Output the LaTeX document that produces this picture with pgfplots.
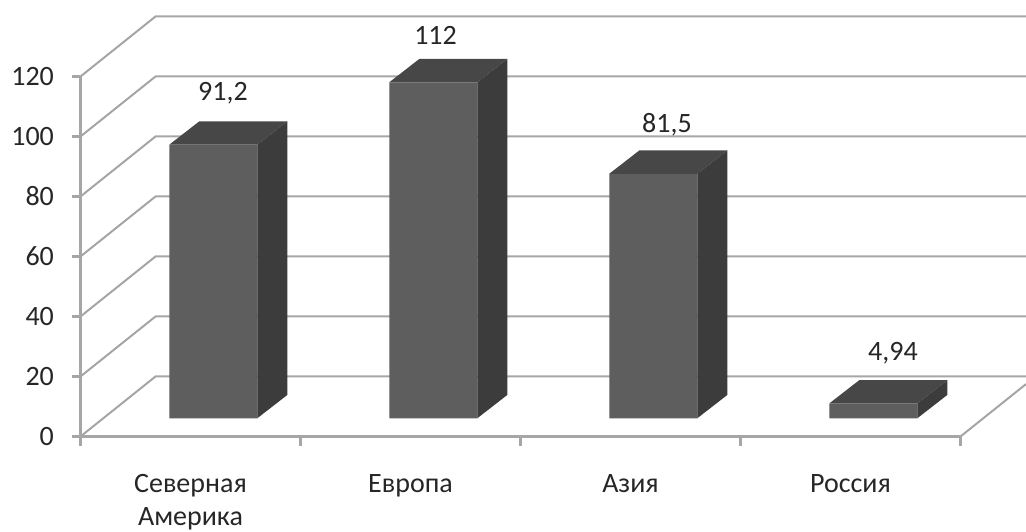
\documentclass[border=0pt]{standalone}
\usepackage{fontspec}
\setmainfont{Carlito}
\usepackage{pgfplots}
\pgfplotsset{compat=1.18}
\definecolor{gridgrey}{HTML}{A6A6A6}
\definecolor{barfront}{HTML}{5E5E5E}
\definecolor{bartop}{HTML}{474747}
\definecolor{barside}{HTML}{3C3C3C}
\definecolor{inktext}{HTML}{262626}
\newcommand{\chartfont}{\fontsize{21}{25}\selectfont}
\begin{document}
\begin{tikzpicture}
\useasboundingbox (-60.375pt,-71.625pt) rectangle (709.125pt,327.375pt);
% Front plane of the chart: value axis, category axis, and the receding grid
\begin{axis}[
  at={(0pt,0pt)}, anchor=south west,
  scale only axis, width=660pt, height=270pt,
  xmin=0, xmax=4, ymin=0, ymax=120, clip=false,
  axis x line=bottom, axis y line=left,
  axis line style={-, draw=gridgrey, line width=1.7pt},
  xtick={0.5,1.5,2.5,3.5},
  xticklabels={{Северная\\Америка},Европа,Азия,Россия},
  minor xtick={0,1,2,3,4},
  ytick={0,20,40,60,80,100,120},
  tick align=outside,
  major tick length=6.4pt, minor tick length=7pt,
  major x tick style={draw=none},
  minor x tick style={draw=gridgrey, line width=1.7pt},
  major y tick style={draw=gridgrey, line width=1.7pt},
  /pgf/number format/assume math mode=true,
  tick label style={font=\chartfont, text=inktext},
  x tick label style={align=center, yshift=-18.5pt},
  y tick label style={xshift=-10pt},
]
\addplot[gridgrey, line width=1.5pt] coordinates {(0,0) (0.3409,20) (4.2977,20)};
\addplot[gridgrey, line width=1.5pt] coordinates {(0,20) (0.3409,40) (4.2977,40)};
\addplot[gridgrey, line width=1.5pt] coordinates {(0,40) (0.3409,60) (4.2977,60)};
\addplot[gridgrey, line width=1.5pt] coordinates {(0,60) (0.3409,80) (4.2977,80)};
\addplot[gridgrey, line width=1.5pt] coordinates {(0,80) (0.3409,100) (4.2977,100)};
\addplot[gridgrey, line width=1.5pt] coordinates {(0,100) (0.3409,120) (4.2977,120)};
\addplot[gridgrey, line width=1.5pt] coordinates {(0,120) (0.3409,140) (4.2977,140)};
\addplot[gridgrey, line width=1.5pt] coordinates {(4,0) (4.2977,17.47)};
\end{axis}
% Bars stand a little behind the front plane, so their axis is offset into the depth
\begin{axis}[
  at={(17.0625pt,13.65pt)}, anchor=south west,
  scale only axis, width=660pt, height=270pt,
  xmin=0, xmax=4, ymin=0, ymax=120, clip=false,
  hide axis,
]
\addplot[ybar, bar width=66pt, fill=barfront, draw=none] coordinates {(0.5,91.2) (1.5,112) (2.5,81.5) (3.5,4.94)};
% top faces
\addplot[fill=bartop, draw=none] coordinates {(0.3,91.2) (0.7,91.2) (0.83636,98.97) (0.43636,98.97)} --cycle;
\addplot[fill=bartop, draw=none] coordinates {(1.3,112) (1.7,112) (1.83636,119.77) (1.43636,119.77)} --cycle;
\addplot[fill=bartop, draw=none] coordinates {(2.3,81.5) (2.7,81.5) (2.83636,89.27) (2.43636,89.27)} --cycle;
\addplot[fill=bartop, draw=none] coordinates {(3.3,4.94) (3.7,4.94) (3.83636,12.71) (3.43636,12.71)} --cycle;
% side faces
\addplot[fill=barside, draw=none] coordinates {(0.7,0) (0.83636,7.77) (0.83636,98.97) (0.7,91.2)} --cycle;
\addplot[fill=barside, draw=none] coordinates {(1.7,0) (1.83636,7.77) (1.83636,119.77) (1.7,112)} --cycle;
\addplot[fill=barside, draw=none] coordinates {(2.7,0) (2.83636,7.77) (2.83636,89.27) (2.7,81.5)} --cycle;
\addplot[fill=barside, draw=none] coordinates {(3.7,0) (3.83636,7.77) (3.83636,12.71) (3.7,4.94)} --cycle;
% value labels
\node[anchor=base, font=\chartfont, text=inktext, inner sep=0pt] at (axis cs:0.5443,105.83) {91,2};
\node[anchor=base, font=\chartfont, text=inktext, inner sep=0pt] at (axis cs:1.5105,124.57) {112};
\node[anchor=base, font=\chartfont, text=inktext, inner sep=0pt] at (axis cs:2.5625,95.4) {81,5};
\node[anchor=base, font=\chartfont, text=inktext, inner sep=0pt] at (axis cs:3.5898,19.4) {4,94};
\end{axis}
\end{tikzpicture}
\end{document}
